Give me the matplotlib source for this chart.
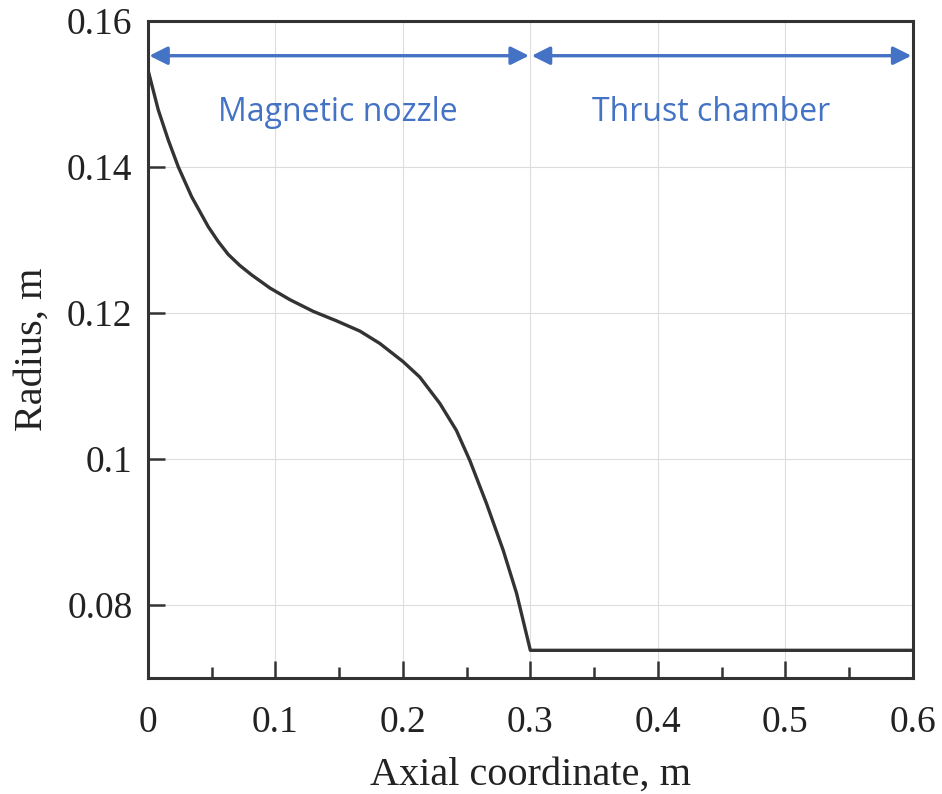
import numpy as np
import matplotlib.pyplot as plt
from matplotlib.ticker import FixedLocator, FixedFormatter

# radius profile
axial = [0, 0.0081, 0.0159, 0.0238, 0.0343, 0.0473, 0.055, 0.063, 0.072,
         0.0813, 0.0957, 0.1114, 0.1297, 0.148, 0.1663, 0.182, 0.2003, 0.2133,
         0.229, 0.242, 0.2525, 0.2656, 0.2787, 0.2892, 0.3, 0.6]
radius = [0.1533, 0.1478, 0.1437, 0.1400, 0.1359, 0.1318, 0.1298, 0.1280,
          0.1265, 0.1252, 0.1234, 0.1218, 0.1202, 0.1189, 0.1175, 0.1158,
          0.1133, 0.1112, 0.1076, 0.1039, 0.0998, 0.0939, 0.0875, 0.0816,
          0.0738, 0.0738]

xticks = [0, 0.1, 0.2, 0.3, 0.4, 0.5, 0.6]
xlabels = ['0', '0.1', '0.2', '0.3', '0.4', '0.5', '0.6']
xminor = [0.05, 0.15, 0.25, 0.35, 0.45, 0.55]
yticks = [0.08, 0.1, 0.12, 0.14, 0.16]
ylabels = ['0.08', '0.1', '0.12', '0.14', '0.16']

regions = ['Magnetic nozzle', 'Thrust chamber']
region_edges = [(0, 0.3), (0.3, 0.6)]
region_text_x = [0.149, 0.442]

fig = plt.figure(figsize=(9.42, 7.94), dpi=100)
ax = fig.add_axes([0.157, 0.146, 0.812, 0.828])
dark = '#333333'
blue = '#4472C4'

ax.plot(axial, radius, color=dark, lw=2.4, zorder=3, solid_joinstyle='round')

ax.set_xlim(0, 0.6)
ax.set_ylim(0.07, 0.16)

ax.xaxis.set_major_locator(FixedLocator(xticks))
ax.xaxis.set_major_formatter(FixedFormatter(xlabels))
ax.xaxis.set_minor_locator(FixedLocator(xminor))
ax.yaxis.set_major_locator(FixedLocator(yticks))
ax.yaxis.set_major_formatter(FixedFormatter(ylabels))

ax.tick_params(axis='both', which='major', direction='in', length=12,
               width=1.8, color=dark, labelsize=27, labelcolor='#222222')
ax.tick_params(axis='x', which='minor', direction='in', length=8,
               width=1.8, color=dark)
ax.tick_params(axis='x', which='major', pad=20)
ax.tick_params(axis='y', which='major', pad=11)

for lab in ax.get_xticklabels() + ax.get_yticklabels():
    lab.set_family('Liberation Serif')

for s in ax.spines.values():
    s.set_linewidth(2.2)
    s.set_color(dark)

ax.grid(True, which='major', color='#dddddd', lw=0.8)
ax.set_axisbelow(True)

ax.set_xlabel('Axial coordinate, m', family='Liberation Serif', fontsize=29,
              color='#222222', labelpad=12)
ax.set_ylabel('Radius, m', family='Liberation Serif', fontsize=29,
              color='#222222', labelpad=12)

for name, (a, b), tx in zip(regions, region_edges, region_text_x):
    ax.annotate('', xy=(a, 0.1552), xytext=(b, 0.1552),
                arrowprops=dict(arrowstyle='<|-|>,head_length=0.42,head_width=0.21',
                                color=blue, lw=2.4, mutation_scale=26,
                                shrinkA=1, shrinkB=1))
    ax.text(tx, 0.1462, name, color=blue, fontsize=23, family='Open Sans',
            ha='center', va='baseline')

fig.savefig('out.png', dpi=100)
